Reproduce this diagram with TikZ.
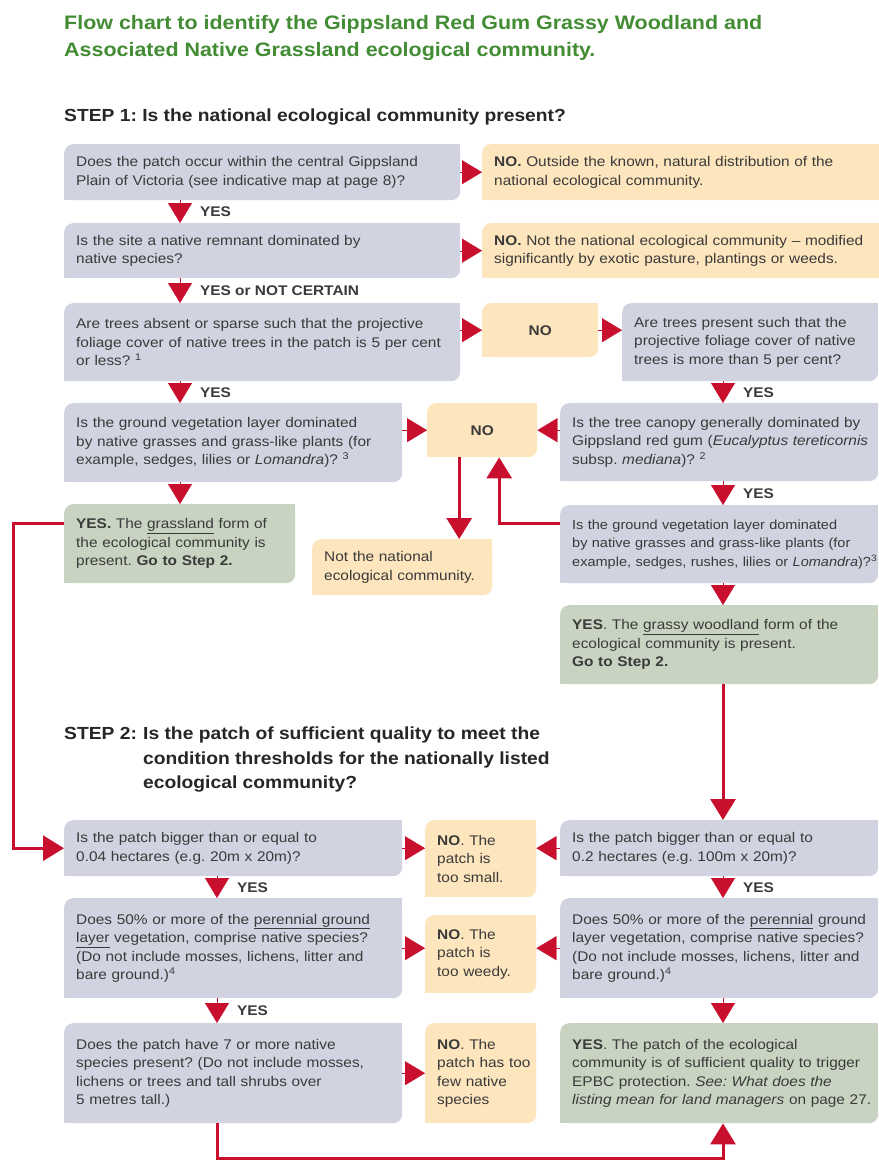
\documentclass[tikz,border=0pt]{standalone}
\usepackage{fontspec}
\setmainfont[FakeStretch=1.1]{Liberation Sans}
\usetikzlibrary{arrows.meta,backgrounds}
\definecolor{qgray}{RGB}{209,212,224}
\definecolor{nyel}{RGB}{253,229,189}
\definecolor{ygreen}{RGB}{200,212,193}
\definecolor{rd}{RGB}{200,16,46}
\definecolor{ttlgreen}{RGB}{66,140,52}
\definecolor{ink}{RGB}{58,58,58}
\frenchspacing
\hyphenpenalty=10000

\begin{document}
\begin{tikzpicture}[x=1pt,y=-1pt,
  every node/.style={font=\fontsize{14}{18.5}\selectfont, text=ink},
  box/.style={anchor=north west, rounded corners=9pt, inner xsep=0pt, inner ysep=4pt,
    align=left, execute at begin node={\leftskip=12pt}},
  sz/.style 2 args={text width=#1, minimum height=#2},
  qbox/.style={box, fill=qgray},
  nbox/.style={box, fill=nyel},
  ybox/.style={box, fill=ygreen},
  mid/.style={execute at begin node={\leftskip=0pt plus 1fil\rightskip=0pt plus 1fil\parfillskip=0pt}},
  head/.style={anchor=north west, inner sep=0pt, align=left,
    font=\bfseries\fontsize{17.5}{24.5}\selectfont, text=black!85},
  yes/.style={anchor=west, inner sep=0pt, xshift=20pt, font=\bfseries\fontsize{14}{18.5}\selectfont},
  tri/.style={draw=rd, line width=0.3pt, -{Triangle[width=24pt,length=20pt]}},
  link/.style={draw=rd, line width=3pt, -{Triangle[width=25pt,length=21pt]}}]
\useasboundingbox (0,0) rectangle (878,1161);

\node[head, font=\bfseries\fontsize{19.5}{27.5}\selectfont, text=ttlgreen] (ttl) at (64,15)
  {Flow chart to identify the Gippsland Red Gum Grassy Woodland and\\Associated Native Grassland ecological community.};
\node[head] (step1) at (64,109) {STEP 1: Is the national ecological community present?};

% step 1
\node[qbox, sz={396}{56}] (q1) at (64,144) {Does the patch occur within the central Gippsland\\Plain of Victoria (see indicative map at page 8)?};
\node[nbox, sz={410}{56}] (n1) at (482,144) {\textbf{NO.} Outside the known, natural distribution of the\\national ecological community.};
\node[qbox, sz={396}{55}] (q2) at (64,223) {Is the site a native remnant dominated by\\native species?};
\node[nbox, sz={410}{55}] (n2) at (482,223) {\textbf{NO.} Not the national ecological community – modified\\significantly by exotic pasture, plantings or weeds.};
\node[qbox, sz={396}{78}] (q3) at (64,303) {Are trees absent or sparse such that the projective\\foliage cover of native trees in the patch is 5 per cent\\or less? \textsuperscript{1}};
\node[nbox, sz={116}{54}, mid] (n3) at (482,303) {\textbf{NO}};
\node[qbox, sz={256}{78}] (q3r) at (622,303) {Are trees present such that the\\projective foliage cover of native\\trees is more than 5 per cent?};
\node[qbox, sz={338}{79}] (q4) at (64,403) {Is the ground vegetation layer dominated\\by native grasses and grass-like plants (for\\example, sedges, lilies or \textit{Lomandra})? \textsuperscript{3}};
\node[nbox, sz={110}{54}, mid] (n4) at (427,403) {\textbf{NO}};
\node[qbox, sz={318}{78}] (q4r) at (560,403) {Is the tree canopy generally dominated by\\Gippsland red gum (\textit{Eucalyptus tereticornis}\\subsp. \textit{mediana})? \textsuperscript{2}};
\node[ybox, sz={231}{79}] (g5) at (64,504) {\textbf{YES.} The \underline{grassland} form of\\the ecological community is\\present. \textbf{Go to Step 2.}};
\node[nbox, sz={180}{56}] (n5) at (312,539) {Not the national\\ecological community.};
\node[qbox, sz={318}{78}, font=\fontsize{13.2}{18.5}\selectfont] (q5r) at (560,505) {Is the ground vegetation layer dominated\\by native grasses and grass-like plants (for\\example, sedges, rushes, lilies or \textit{Lomandra})?\textsuperscript{3}};
\node[ybox, sz={318}{79}] (g6) at (560,605) {\textbf{YES}. The \underline{grassy woodland} form of the\\ecological community is present.\\\textbf{Go to Step 2.}};

% step 2
\node[head] (step2) at (64,727) {STEP 2:};
\node[head] (step2q) at (143,727) {Is the patch of sufficient quality to meet the\\condition thresholds for the nationally listed\\ecological community?};
\node[qbox, sz={338}{56}] (p1) at (64,820) {Is the patch bigger than or equal to\\0.04 hectares (e.g. 20m x 20m)?};
\node[nbox, sz={111}{77}] (m1) at (425,820) {\textbf{NO}. The\\patch is\\too small.};
\node[qbox, sz={318}{56}] (p1r) at (560,820) {Is the patch bigger than or equal to\\0.2 hectares (e.g. 100m x 20m)?};
\node[qbox, sz={338}{100}] (p2) at (64,898) {Does 50\% or more of the \underline{perennial ground}\\\underline{layer} vegetation, comprise native species?\\(Do not include mosses, lichens, litter and\\bare ground.)\textsuperscript{4}};
\node[nbox, sz={111}{78}] (m2) at (425,915) {\textbf{NO}. The\\patch is\\too weedy.};
\node[qbox, sz={318}{100}] (p2r) at (560,898) {Does 50\% or more of the \underline{perennial} ground\\layer vegetation, comprise native species?\\(Do not include mosses, lichens, litter and\\bare ground.)\textsuperscript{4}};
\node[qbox, sz={338}{100}] (p3) at (64,1023) {Does the patch have 7 or more native\\species present? (Do not include mosses,\\lichens or trees and tall shrubs over\\5 metres tall.)};
\node[nbox, sz={111}{100}] (m3) at (425,1023) {\textbf{NO}. The\\patch has too\\few native\\species};
\node[ybox, sz={318}{100}] (g7) at (560,1023) {\textbf{YES}. The patch of the ecological\\community is of sufficient quality to trigger\\EPBC protection. \textit{See: What does the}\\\textit{listing mean for land managers} on page 27.};

% yes / no pointers
\draw[tri] ([xshift=116pt]q1.south west) -- node[yes] {YES} ([xshift=116pt]q2.north west);
\draw[tri] ([xshift=116pt]q2.south west) -- node[yes] {YES or NOT CERTAIN} ([xshift=116pt]q3.north west);
\draw[tri] ([xshift=116pt]q3.south west) -- node[yes] {YES} ([xshift=116pt]q4.north west);
\draw[tri] ([xshift=116pt]q4.south west) -- ([xshift=116pt]g5.north west);
\draw[tri] ([xshift=101pt]q3r.south west) -- node[yes] {YES} ([xshift=163pt]q4r.north west);
\draw[tri] ([xshift=163pt]q4r.south west) -- node[yes] {YES} ([xshift=163pt]q5r.north west);
\draw[tri] ([xshift=163pt]q5r.south west) -- ([xshift=163pt]g6.north west);
\draw[tri] ([xshift=153pt]p1.south west) -- node[yes] {YES} ([xshift=153pt]p2.north west);
\draw[tri] ([xshift=153pt]p2.south west) -- node[yes] {YES} ([xshift=153pt]p3.north west);
\draw[tri] ([xshift=163pt]p1r.south west) -- node[yes] {YES} ([xshift=163pt]p2r.north west);
\draw[tri] ([xshift=163pt]p2r.south west) -- ([xshift=163pt]g7.north west);
\draw[tri] (q1.east) -- (n1.west);
\draw[tri] (q2.east) -- (n2.west);
\draw[tri] (q3.east |- n3.west) -- (n3.west);
\draw[tri] (n3.east) -- (q3r.west |- n3.east);
\draw[tri] (q4.east |- n4.west) -- (n4.west);
\draw[tri] (q4r.west |- n4.east) -- (n4.east);
\draw[tri] (p1.east) -- (m1.west |- p1.east);
\draw[tri] (p1r.west) -- (m1.east |- p1r.west);
\draw[tri] (p2.east) -- (m2.west |- p2.east);
\draw[tri] (p2r.west) -- (m2.east |- p2r.west);
\draw[tri] (p3.east) -- (m3.west);

% lines
\coordinate (nd) at ([xshift=-23pt]n4.south);
\coordinate (nu) at ([xshift=17pt]n4.south);
\draw[link] (nd) -- (nd |- n5.north);
\draw[link] ([yshift=-18pt]q5r.north west) -| (nu);
\draw[link] ([yshift=-19pt]g5.north west) -- ++(-51pt,0) |- (p1.west);
\draw[link] ([xshift=163pt]g6.south west) -- ([xshift=163pt]p1r.north west);
\draw[link] ([xshift=153pt]p3.south west) -- ++(0,-35pt) -| ([xshift=163pt]g7.south west);

\begin{scope}[on background layer]
  \fill[white] (0,0) rectangle (878,1161);
  \foreach \b/\c in {q1/qgray, q2/qgray, q3/qgray, q3r/qgray, q4/qgray, q4r/qgray, q5r/qgray,
      p1/qgray, p1r/qgray, p2/qgray, p2r/qgray, p3/qgray, n1/nyel, n2/nyel, n3/nyel, n4/nyel,
      n5/nyel, m1/nyel, m2/nyel, m3/nyel, g5/ygreen, g6/ygreen, g7/ygreen}
    {\fill[\c] (\b.north east) rectangle ++(-10pt,-10pt);
     \fill[\c] (\b.south west) rectangle ++(10pt,10pt);}
\end{scope}
\end{tikzpicture}
\end{document}
